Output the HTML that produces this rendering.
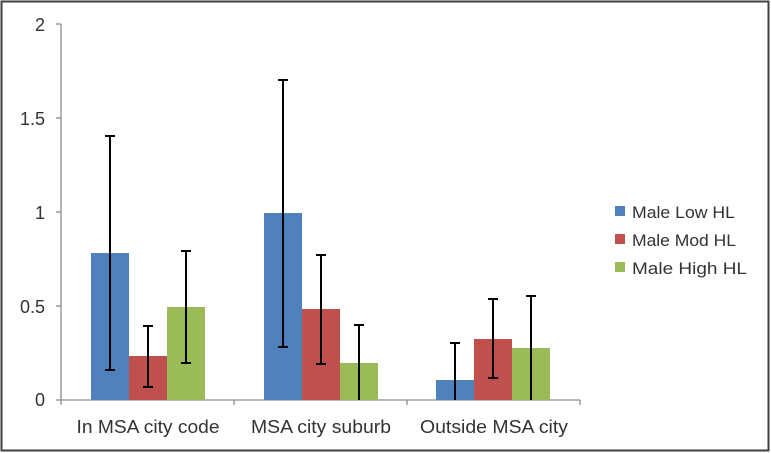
<!DOCTYPE html>
<html><head><style>
body{margin:0;background:#fff;}
svg{display:block;font-family:"Liberation Sans",sans-serif;}
</style></head><body>
<svg width="771" height="453" xmlns="http://www.w3.org/2000/svg">
<rect x="1.5" y="1.5" width="767" height="449" fill="#fff" stroke="#404040" stroke-width="2"/>
<g stroke="#8c8c8c" stroke-width="1.3">
<line x1="61" y1="24" x2="61" y2="400"/>
<line x1="61" y1="400" x2="580" y2="400"/>
<line x1="56" y1="24" x2="61" y2="24"/>
<line x1="56" y1="118" x2="61" y2="118"/>
<line x1="56" y1="212" x2="61" y2="212"/>
<line x1="56" y1="306" x2="61" y2="306"/>
<line x1="56" y1="400" x2="61" y2="400"/>
<line x1="61" y1="400" x2="61" y2="405"/>
<line x1="234" y1="400" x2="234" y2="405"/>
<line x1="407" y1="400" x2="407" y2="405"/>
<line x1="580" y1="400" x2="580" y2="405"/>
</g>
<g font-size="18" fill="#333" text-anchor="end">
<text x="45" y="31">2</text>
<text x="45" y="125">1.5</text>
<text x="45" y="219">1</text>
<text x="45" y="313">0.5</text>
<text x="45" y="406">0</text>
</g>
<g font-size="18" fill="#333" text-anchor="middle">
<text x="148" y="433" textLength="143" lengthAdjust="spacingAndGlyphs">In MSA city code</text>
<text x="321" y="433" textLength="140" lengthAdjust="spacingAndGlyphs">MSA city suburb</text>
<text x="494" y="433" textLength="148" lengthAdjust="spacingAndGlyphs">Outside MSA city</text>
</g>
<g>
<rect x="91" y="253" width="38" height="147" fill="#4f81bd"/>
<rect x="129" y="356" width="38" height="44" fill="#c0504d"/>
<rect x="167" y="307" width="38" height="93" fill="#9bbb59"/>
<rect x="264" y="213" width="38" height="187" fill="#4f81bd"/>
<rect x="302" y="309" width="38" height="91" fill="#c0504d"/>
<rect x="340" y="363" width="38" height="37" fill="#9bbb59"/>
<rect x="436" y="380" width="38" height="20" fill="#4f81bd"/>
<rect x="474" y="339" width="38" height="61" fill="#c0504d"/>
<rect x="512" y="348" width="38" height="52" fill="#9bbb59"/>
</g>
<g stroke="#000" stroke-width="2">
<path d="M110 136V370M105 136h10M105 370h10"/>
<path d="M148 326V387M143 326h10M143 387h10"/>
<path d="M186 251V363M181 251h10M181 363h10"/>
<path d="M283 80V347M278 80h10M278 347h10"/>
<path d="M321 255V364M316 255h10M316 364h10"/>
<path d="M359 325V400M354 325h10"/>
<path d="M455 343V400M450 343h10"/>
<path d="M493 299V378M488 299h10M488 378h10"/>
<path d="M531 296V400M526 296h10"/>
</g>
<rect x="615" y="206" width="10" height="10" fill="#4f81bd"/>
<rect x="615" y="234" width="10" height="10" fill="#c0504d"/>
<rect x="615" y="262" width="10" height="10" fill="#9bbb59"/>
<g font-size="17" fill="#333">
<text x="632" y="218" textLength="103" lengthAdjust="spacingAndGlyphs">Male Low HL</text>
<text x="632" y="246" textLength="104" lengthAdjust="spacingAndGlyphs">Male Mod HL</text>
<text x="632" y="274" textLength="115" lengthAdjust="spacingAndGlyphs">Male High HL</text>
</g>
</svg>
</body></html>
